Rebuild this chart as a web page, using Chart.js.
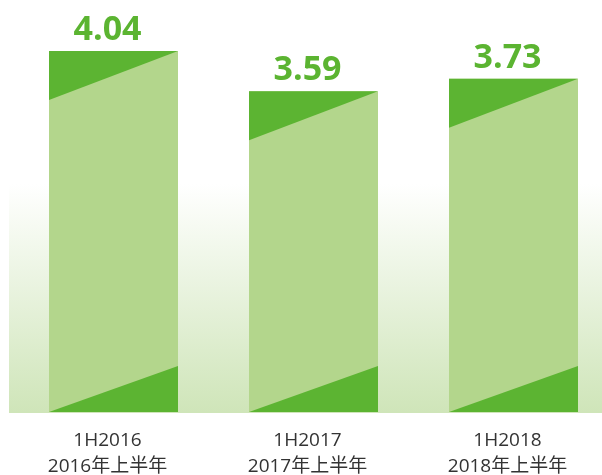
<!DOCTYPE html>
<html>
<head>
<meta charset="utf-8">
<script src="https://cdn.jsdelivr.net/npm/chart.js@4"></script>
<style>
  html, body { margin: 0; padding: 0; background: #ffffff; }
  #wrap { width: 602px; height: 475px; }
</style>
</head>
<body>
<div id="wrap"><canvas id="chart"></canvas></div>
<script>
// Chart data
const periods = ['1H2016', '1H2017', '1H2018'];
const periodsCn = ['2016年上半年', '2017年上半年', '2018年上半年'];
const positions = [0, 1, 2];
const values = [4.04, 3.59, 3.73];

const DARK = '#5cb432';
const LIGHT = '#b3d68c';

// Soft green wash behind the bars
const backgroundPlugin = {
    id: 'greenWash',
    beforeDatasetsDraw(chart) {
        const ctx = chart.ctx;
        const area = chart.chartArea;
        const top = 184;
        const grad = ctx.createLinearGradient(0, top, 0, area.bottom);
        grad.addColorStop(0, 'rgba(255,255,255,1)');
        grad.addColorStop(1, '#cfe5b9');
        ctx.save();
        ctx.fillStyle = grad;
        ctx.fillRect(9, top, chart.width - 9, area.bottom - top + 1);
        ctx.restore();
    }
};

// Dark corner triangles on each bar and the value labels
const decorPlugin = {
    id: 'barDecor',
    afterDatasetsDraw(chart) {
        const ctx = chart.ctx;
        const meta = chart.getDatasetMeta(0);
        ctx.save();
        meta.data.forEach(function(bar, i) {
            const half = bar.width / 2;
            const left = bar.x - half;
            const right = bar.x + half;
            const top = bar.y;
            const bottom = bar.base;
            const tri = 47;

            ctx.fillStyle = DARK;
            ctx.beginPath();
            ctx.moveTo(left, top);
            ctx.lineTo(right, top);
            ctx.lineTo(left, top + tri + 2);
            ctx.closePath();
            ctx.fill();

            ctx.beginPath();
            ctx.moveTo(left, bottom);
            ctx.lineTo(right, bottom);
            ctx.lineTo(right, bottom - tri + 1);
            ctx.closePath();
            ctx.fill();

            // value label, sits a little left of the bar centre
            ctx.fillStyle = '#5bb431';
            ctx.font = 'bold 34px "Open Sans", "Noto Sans", sans-serif';
            ctx.textAlign = 'center';
            ctx.textBaseline = 'alphabetic';
            ctx.fillText(values[i].toFixed(2), bar.x - 6, top - 11);
        });
        ctx.restore();
    }
};

new Chart(document.getElementById('chart'), {
    type: 'bar',
    data: {
        datasets: [{
            data: positions.map((p, i) => ({ x: p, y: values[i] })),
            backgroundColor: LIGHT,
            borderWidth: 0,
            categoryPercentage: 1,
            barPercentage: 0.645
        }]
    },
    options: {
        responsive: true,
        maintainAspectRatio: false,
        animation: false,
        layout: { padding: { top: 10, left: 9, right: 0, bottom: 0 } },
        plugins: {
            legend: { display: false },
            tooltip: { enabled: false }
        },
        scales: {
            x: {
                type: 'linear',
                offset: false,
                min: -0.5225,
                max: 2.4425,
                grid: { display: false, drawTicks: false },
                border: { display: false },
                afterBuildTicks(scale) {
                    scale.ticks = positions.map(v => ({ value: v }));
                },
                afterFit(scale) {
                    scale.height = 63;
                },
                ticks: {
                    padding: 16,
                    labelOffset: -6,
                    color: '#333333',
                    font: { family: '"Open Sans", "Noto Sans CJK SC", sans-serif', size: 19, lineHeight: 1.37 },
                    callback: function(value) {
                        return [periods[value], periodsCn[value]];
                    }
                }
            },
            y: {
                display: false,
                min: 0,
                max: 4.5
            }
        }
    },
    plugins: [backgroundPlugin, decorPlugin]
});
</script>
</body>
</html>
